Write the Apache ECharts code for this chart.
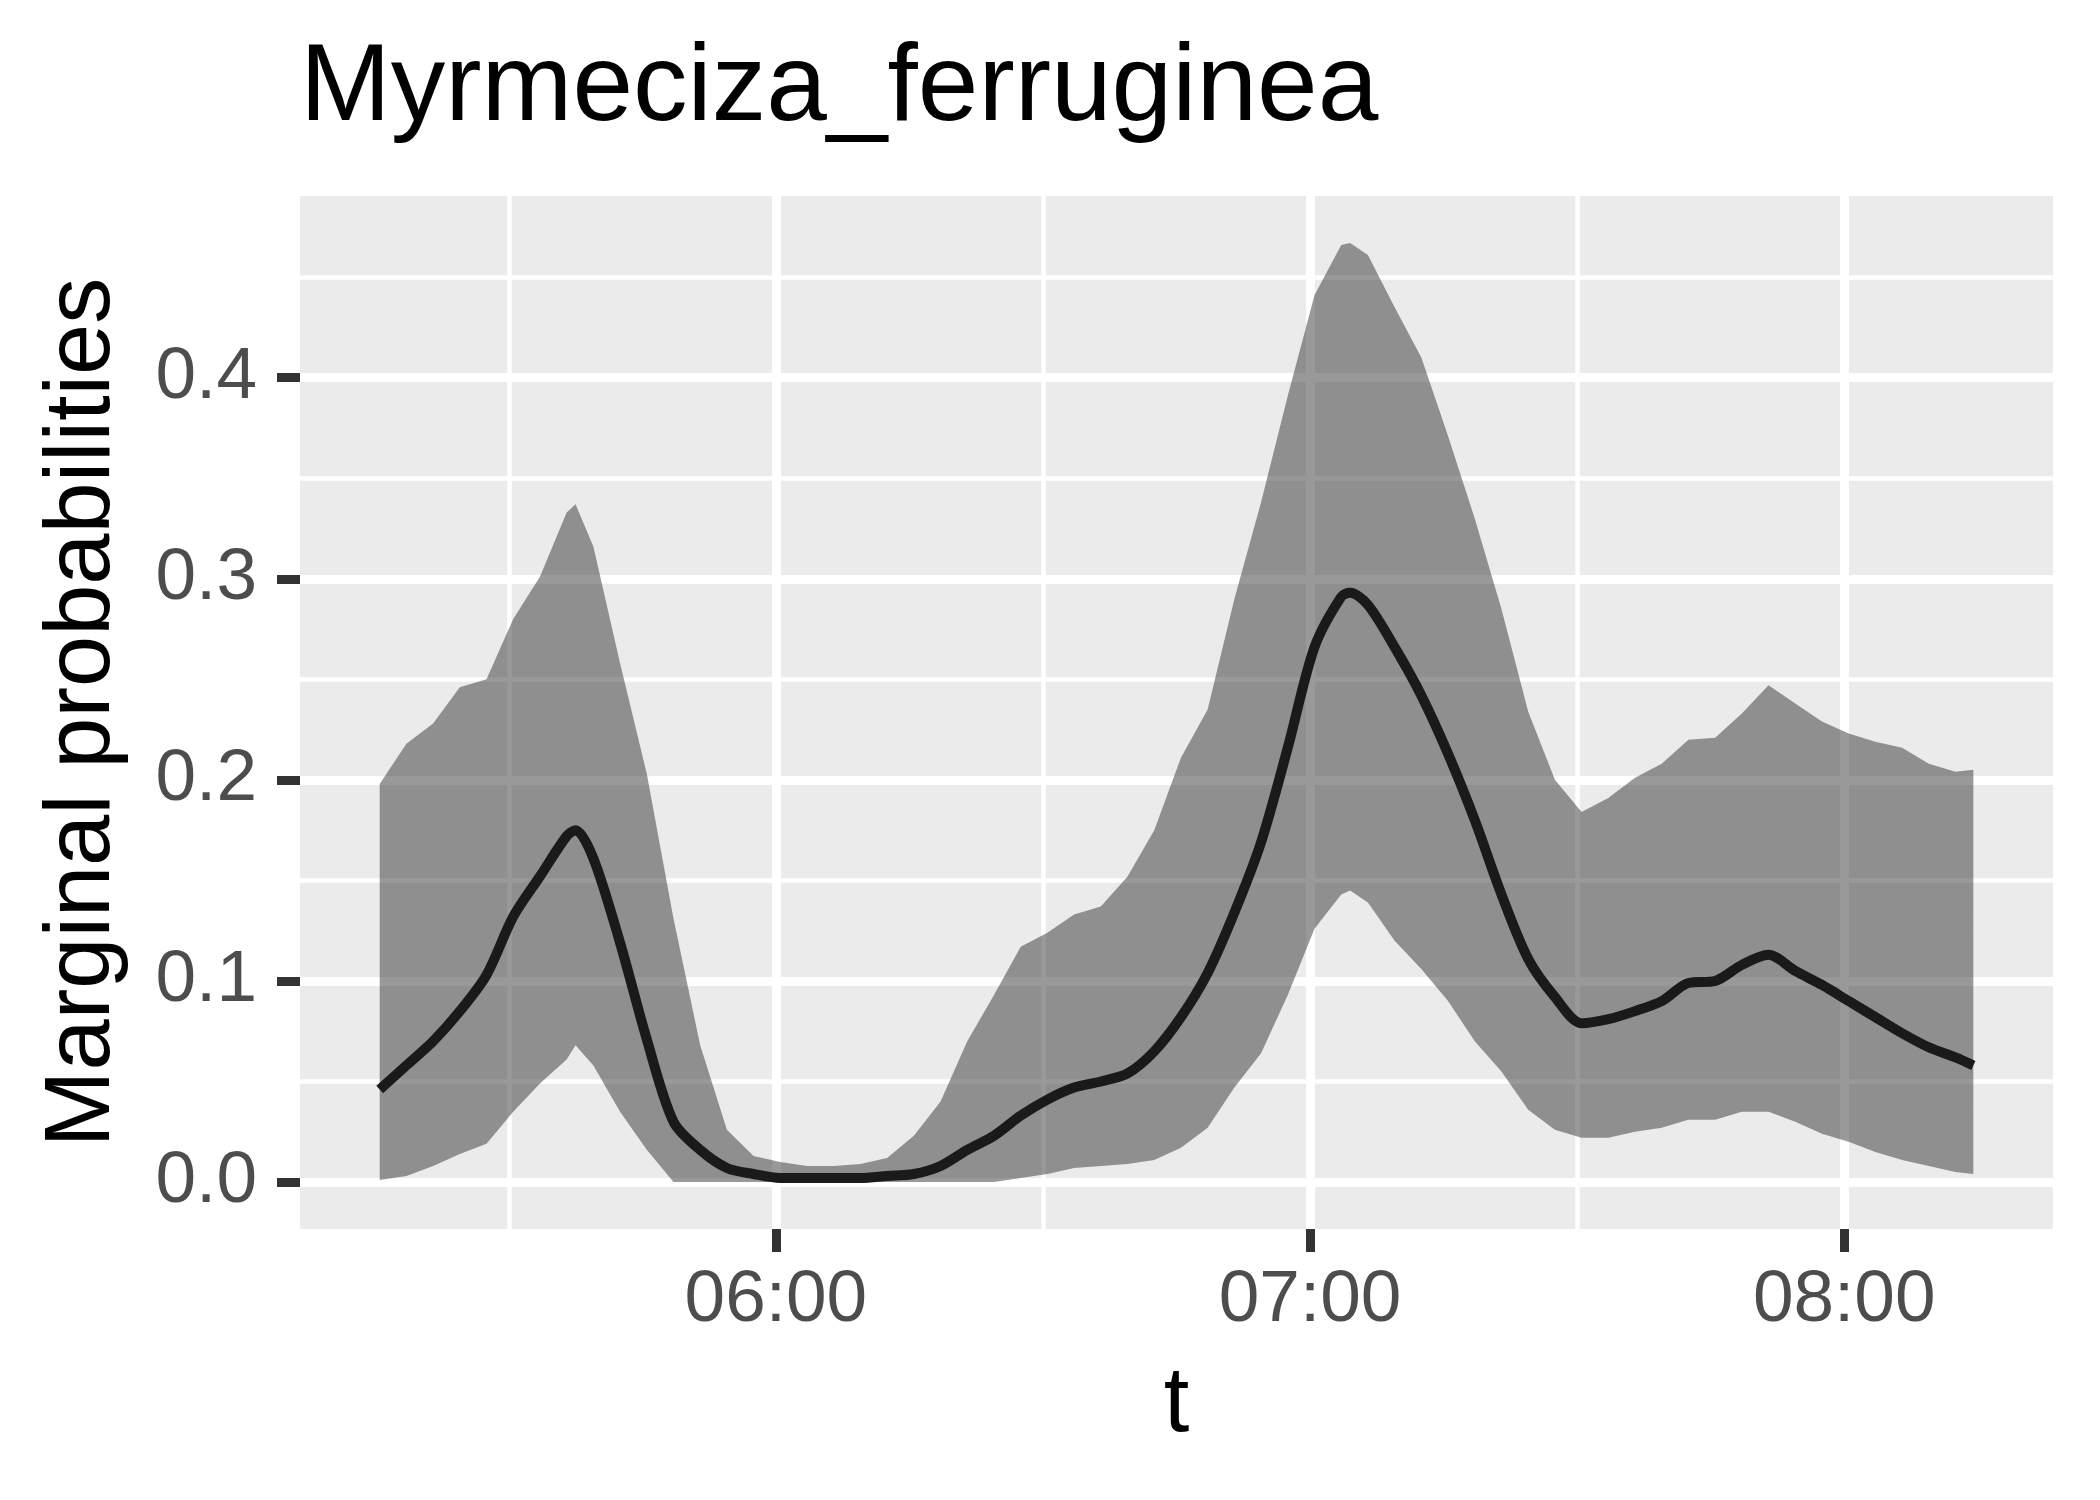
<!DOCTYPE html>
<html lang="en">
<head>
<meta charset="UTF-8">
<title>Myrmeciza_ferruginea</title>
<script src="https://cdn.jsdelivr.net/npm/echarts@6/dist/echarts.min.js"></script>
<style>
  html, body { margin: 0; padding: 0; background: #ffffff; }
  #chart { width: 2100px; height: 1500px; }
</style>
</head>
<body>
<div id="chart"></div>
<script>
// time of day for every sample
const times = [
  '05:15:30','05:18:30','05:21:30','05:24:30','05:27:30','05:30:30','05:33:30','05:36:30',
  '05:37:30','05:39:30','05:42:30','05:45:30','05:48:30','05:51:30','05:54:30','05:57:30',
  '06:00:30','06:03:30','06:06:30','06:09:30','06:12:30','06:15:30','06:18:30','06:21:30',
  '06:24:30','06:27:30','06:30:30','06:33:30','06:36:30','06:39:30','06:42:30','06:45:30',
  '06:48:30','06:51:30','06:54:30','06:57:30','07:00:30','07:03:30','07:04:30','07:06:30',
  '07:09:30','07:12:30','07:15:30','07:18:30','07:21:30','07:24:30','07:27:30','07:30:30',
  '07:33:30','07:36:30','07:39:30','07:42:30','07:45:30','07:48:30','07:51:30','07:54:30',
  '07:57:30','08:00:30','08:03:30','08:06:30','08:09:30','08:12:30','08:14:30'
];

// posterior mean of the marginal probability
const meanProb = [
  0.046,0.058,0.070,0.085,0.103,0.132,0.152,0.172,0.175,0.161,0.119,0.071,0.030,0.016,0.007,0.004,
  0.002,0.002,0.002,0.002,0.003,0.004,0.008,0.016,0.023,0.033,0.041,0.047,0.050,0.054,0.065,0.082,
  0.104,0.134,0.169,0.216,
  0.266,0.291,0.293,0.287,0.266,0.242,0.213,0.180,0.143,0.111,0.092,0.079,0.081,0.085,0.090,0.099,
  0.100,0.108,0.113,0.105,0.098,
  0.090,0.082,0.074,0.067,0.062,0.058
];

// lower edge of the band
const lowerProb = [
  0.001,0.003,0.008,0.014,0.019,0.035,0.049,0.061,0.068,0.058,0.035,0.016,0.000,0.000,0.000,0.000,
  0.000,0.000,0.000,0.000,0.000,0.000,0.000,0.000,0.000,0.002,0.004,0.007,0.008,0.009,0.011,0.017,
  0.027,0.047,0.064,0.093,
  0.126,0.143,0.145,0.139,0.120,0.106,0.090,0.070,0.055,0.036,0.026,0.022,0.022,0.025,0.027,0.031,
  0.031,0.035,0.035,0.030,0.024,
  0.020,0.015,0.011,0.008,0.005,0.004
];

// upper edge of the band
const upperProb = [
  0.198,0.218,0.228,0.246,0.250,0.280,0.301,0.333,0.337,0.316,0.258,0.203,0.131,0.068,0.026,0.013,
  0.010,0.008,0.008,0.009,0.012,0.023,0.040,0.070,0.093,0.117,0.124,0.133,0.137,0.152,0.175,0.211,
  0.235,0.290,0.338,0.391,
  0.441,0.466,0.467,0.461,0.435,0.410,0.371,0.330,0.285,0.234,0.200,0.184,0.191,0.201,0.208,0.220,
  0.221,0.233,0.247,0.238,0.229,
  0.223,0.219,0.216,0.208,0.204,0.205
];

const xTickLabels = ['06:00', '07:00', '08:00'];
const yTickValues = [0.0, 0.1, 0.2, 0.3, 0.4];

function toMinutes(s) {
  const p = s.split(':').map(Number);
  return p[0] * 60 + p[1] + (p[2] || 0) / 60;
}
function pad(n) { return (n < 10 ? '0' : '') + n; }

const xs = times.map(toMinutes);
const xTickValues = xTickLabels.map(toMinutes);

// ggplot style 5% expansion on both axes
const xSpan = xs[xs.length - 1] - xs[0];
const xMin = xs[0] - 0.05 * xSpan;
const xMax = xs[xs.length - 1] + 0.05 * xSpan;
const yTop = Math.max.apply(null, upperProb);
const yMin = -0.05 * yTop;
const yMax = yTop * 1.05;

const meanData = xs.map((x, i) => [x, meanProb[i]]);
const bandData = xs.map((x, i) => [x, lowerProb[i], upperProb[i]]);

const FONT = 'Liberation Sans';

let myChart = echarts.init(document.getElementById('chart'), null, { renderer: 'canvas' });

const option = {
  animation: false,
  backgroundColor: '#ffffff',
  textStyle: { fontFamily: FONT },
  title: {
    text: 'Myrmeciza_ferruginea',
    left: 300,
    top: 35,
    padding: 0,
    textStyle: { fontFamily: FONT, fontSize: 109, fontWeight: 'normal', color: '#000000' }
  },
  grid: {
    left: 300, right: 47, top: 196, bottom: 271,
    show: true, backgroundColor: '#EBEBEB', borderWidth: 0
  },
  xAxis: {
    type: 'value',
    min: xMin,
    max: xMax,
    minInterval: 60,
    maxInterval: 60,
    name: 't',
    nameLocation: 'middle',
    nameGap: 131,
    nameTextStyle: { fontFamily: FONT, fontSize: 92, color: '#000000' },
    axisLine: { show: false, onZero: false },
    axisTick: { show: true, customValues: xTickValues, length: 23, lineStyle: { color: '#333333', width: 9 } },
    axisLabel: {
      customValues: xTickValues,
      fontFamily: FONT, fontSize: 73, color: '#4D4D4D', margin: 35,
      formatter: function (v) {
        const h = Math.floor(v / 60), m = Math.round(v - h * 60);
        return pad(h) + ':' + pad(m);
      }
    },
    splitLine: { show: true, lineStyle: { color: '#ffffff', width: 9 } },
    minorTick: { show: false, splitNumber: 2 },
    minorSplitLine: { show: true, lineStyle: { color: '#ffffff', width: 4.5 } }
  },
  yAxis: {
    type: 'value',
    min: yMin,
    max: yMax,
    minInterval: 0.1,
    maxInterval: 0.1,
    name: 'Marginal probabilities',
    nameLocation: 'middle',
    nameRotate: 90,
    nameGap: 170,
    nameTextStyle: { fontFamily: FONT, fontSize: 92, color: '#000000' },
    axisLine: { show: false, onZero: false },
    axisTick: { show: true, customValues: yTickValues, length: 23, lineStyle: { color: '#333333', width: 9 } },
    axisLabel: {
      customValues: yTickValues,
      fontFamily: FONT, fontSize: 73, color: '#4D4D4D', margin: 43,
      formatter: function (v) { return v.toFixed(1); }
    },
    splitLine: { show: true, lineStyle: { color: '#ffffff', width: 9 } },
    minorTick: { show: false, splitNumber: 2 },
    minorSplitLine: { show: true, lineStyle: { color: '#ffffff', width: 4.5 } }
  },
  series: [
    {
      // ribbon between lower and upper, drawn as one polygon through the axis scales
      name: 'band',
      type: 'custom',
      silent: true,
      clip: true,
      data: [bandData[0]],
      renderItem: function (params, api) {
        const pts = [];
        for (let i = 0; i < bandData.length; i++) {
          pts.push(api.coord([bandData[i][0], bandData[i][2]]));
        }
        for (let i = bandData.length - 1; i >= 0; i--) {
          pts.push(api.coord([bandData[i][0], bandData[i][1]]));
        }
        return {
          type: 'polygon',
          shape: { points: pts },
          style: { fill: 'rgba(51,51,51,0.5)', stroke: null }
        };
      },
      z: 2
    },
    {
      name: 'mean',
      type: 'line',
      data: meanData,
      symbol: 'none',
      silent: true,
      smooth: 0.3,
      lineStyle: { color: '#1A1A1A', width: 10, join: 'round' },
      z: 5
    }
  ]
};

myChart.setOption(option);
</script>
</body>
</html>
